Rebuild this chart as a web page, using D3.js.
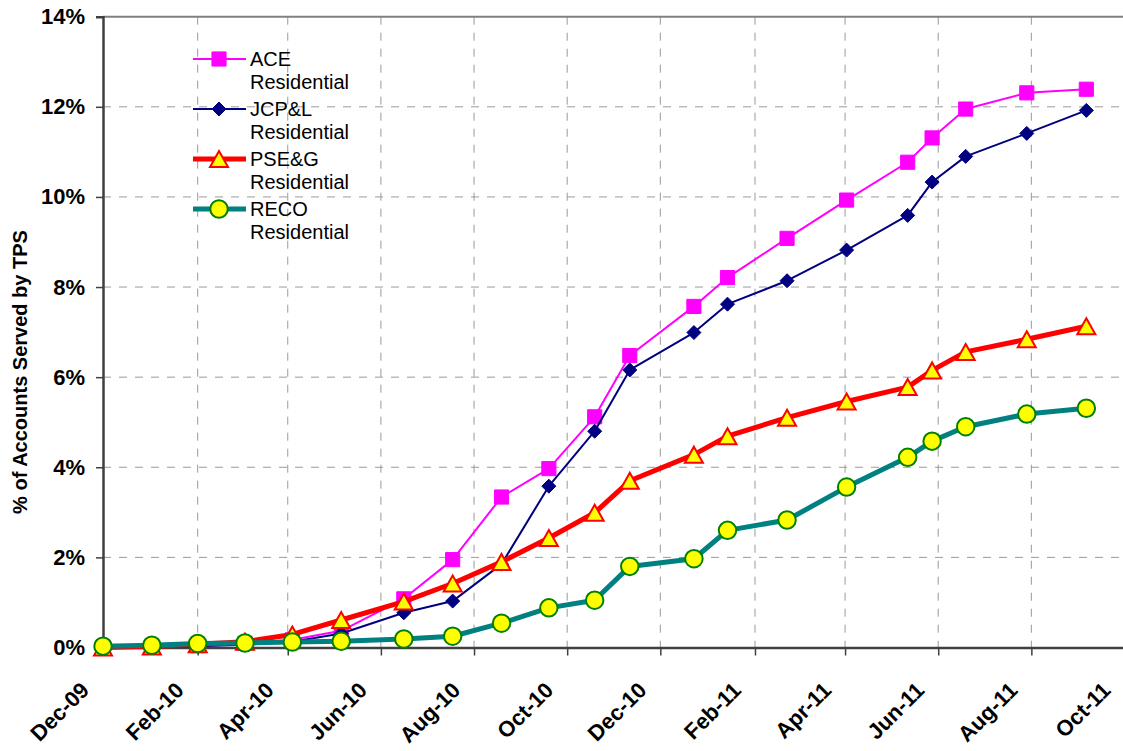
<!DOCTYPE html>
<html>
<head>
<meta charset="utf-8">
<script src="https://cdn.jsdelivr.net/npm/d3@7"></script>
<style>
    body { margin: 0; background: #fff; }
    text { font-family: "Liberation Sans", Arial, sans-serif; }
</style>
</head>
<body>
<div id="chart"></div>
<script>
// survey dates
let dates = [
    "2009-12-01", "2010-01-02", "2010-02-01", "2010-03-04", "2010-04-04", "2010-05-06",
    "2010-06-16", "2010-07-18", "2010-08-19", "2010-09-19", "2010-10-19", "2010-11-11",
    "2010-12-23", "2011-01-14", "2011-02-22", "2011-04-02", "2011-05-12", "2011-05-28",
    "2011-06-19", "2011-07-29", "2011-09-06"
];

// percent of accounts
let ace = [0.00, 0.01, 0.04, 0.09, 0.17, 0.37, 1.08, 1.95, 3.34, 3.97, 5.12, 6.48,
    7.57, 8.21, 9.08, 9.93, 10.77, 11.31, 11.95, 12.31, 12.39];
let jcpl = [0.00, 0.01, 0.03, 0.06, 0.13, 0.31, 0.77, 1.03, 1.85, 3.58, 4.80, 6.16,
    6.99, 7.62, 8.14, 8.82, 9.59, 10.33, 10.90, 11.41, 11.92];
let pseg = [0.00, 0.02, 0.07, 0.13, 0.29, 0.61, 1.02, 1.42, 1.90, 2.43, 2.99, 3.70,
    4.28, 4.69, 5.10, 5.46, 5.78, 6.15, 6.56, 6.84, 7.13];
let reco = [0.03, 0.05, 0.09, 0.10, 0.12, 0.14, 0.19, 0.25, 0.54, 0.88, 1.05, 1.80,
    1.97, 2.60, 2.83, 3.56, 4.22, 4.58, 4.90, 5.18, 5.31];

let seriesNames = ["ACE", "JCP&L", "PSE&G", "RECO"];
let xTicks = [
    "2009-12-01", "2010-02-01", "2010-04-01", "2010-06-01", "2010-08-01", "2010-10-01",
    "2010-12-01", "2011-02-01", "2011-04-01", "2011-06-01", "2011-08-01", "2011-10-01"
];
let yTicks = [0, 2, 4, 6, 8, 10, 12, 14];

let width = 1123, height = 751;
let plotLeft = 103, plotRight = 1124.5, plotTop = 16.7, plotBottom = 647.5;

let parse = d3.timeParse("%Y-%m-%d");

let x = d3.scaleTime()
    .domain([parse(xTicks[0]), parse(xTicks[xTicks.length - 1])])
    .range([plotLeft, plotRight]);
let y = d3.scaleLinear()
    .domain([0, 14])
    .range([plotBottom, plotTop]);

let svg = d3.select("#chart")
    .append("svg")
    .attr("width", width)
    .attr("height", height);

svg.append("rect").attr("width", width).attr("height", height).attr("fill", "#fff");

// gridlines
let grid = svg.append("g")
    .attr("stroke", "#9a9a9a")
    .attr("stroke-width", 1)
    .attr("stroke-dasharray", "8,8");
grid.selectAll("line.h")
    .data(yTicks.slice(1, -1))
    .enter()
    .append("line")
    .attr("x1", plotLeft).attr("x2", plotRight)
    .attr("y1", d => y(d)).attr("y2", d => y(d));
grid.selectAll("line.v")
    .data(xTicks.slice(1, -1))
    .enter()
    .append("line")
    .attr("x1", d => x(parse(d))).attr("x2", d => x(parse(d)))
    .attr("y1", plotTop).attr("y2", plotBottom);

// top border
svg.append("line")
    .attr("x1", plotLeft).attr("x2", plotRight)
    .attr("y1", plotTop).attr("y2", plotTop)
    .attr("stroke", "#808080").attr("stroke-width", 2);

// axes
let yAxis = svg.append("g")
    .attr("transform", `translate(${plotLeft},0)`)
    .call(d3.axisLeft(y).tickValues(yTicks).tickSize(7).tickPadding(11)
        .tickFormat(d => d + "%"));
let xAxis = svg.append("g")
    .attr("transform", `translate(0,${plotBottom})`)
    .call(d3.axisBottom(x).tickValues(xTicks.map(parse)).tickSize(8)
        .tickFormat(d3.timeFormat("%b-%y")));

[yAxis, xAxis].forEach(a => {
    a.select(".domain").attr("stroke", "#404040").attr("stroke-width", 2.5);
    a.selectAll(".tick line").attr("stroke", "#404040").attr("stroke-width", 1.5);
    a.selectAll("text")
        .attr("fill", "#000")
        .style("font-size", "22px")
        .style("font-weight", "bold");
});

xAxis.selectAll(".tick text")
    .attr("text-anchor", "end")
    .attr("y", 0)
    .attr("dy", 0)
    .attr("transform", "translate(-13,44) rotate(-45)");

// y axis title
svg.append("text")
    .attr("transform", "translate(27,372) rotate(-90)")
    .attr("text-anchor", "middle")
    .style("font-size", "20px")
    .style("font-weight", "bold")
    .text("% of Accounts Served by TPS");

// markers
function triangle(w, h) {
    return `M0,${-h / 2}L${w / 2},${h / 2}L${-w / 2},${h / 2}Z`;
}
let styles = [
    { line: "#ff00ff", lw: 2, path: d3.symbol(d3.symbolSquare, 200)(), fill: "#ff00ff", stroke: "#ff00ff", sw: 1 },
    { line: "#000080", lw: 2, path: "M0,-7L7,0L0,7L-7,0Z", fill: "#000080", stroke: "#000080", sw: 1 },
    { line: "#ff0000", lw: 5, path: triangle(18, 16), fill: "#ffff00", stroke: "#ff0000", sw: 2 },
    { line: "#008080", lw: 5, path: d3.symbol(d3.symbolCircle, 240)(), fill: "#ffff00", stroke: "#008000", sw: 2 }
];
let allSeries = [ace, jcpl, pseg, reco];

let line = d3.line()
    .x(d => x(d.date))
    .y(d => y(d.value));

allSeries.forEach((vals, i) => {
    let data = vals.map((v, j) => ({ date: parse(dates[j]), value: v }));
    let s = styles[i];
    let g = svg.append("g");
    g.append("path")
        .datum(data)
        .attr("d", line)
        .attr("fill", "none")
        .attr("stroke", s.line)
        .attr("stroke-width", s.lw)
        .attr("stroke-linejoin", "round");
    g.selectAll("path.m")
        .data(data)
        .enter()
        .append("path")
        .attr("class", "m")
        .attr("d", s.path)
        .attr("transform", d => `translate(${x(d.date)},${y(d.value)})`)
        .attr("fill", s.fill)
        .attr("stroke", s.stroke)
        .attr("stroke-width", s.sw);
});

// legend
let legend = svg.append("g").attr("transform", "translate(193,59)");
seriesNames.forEach((name, i) => {
    let s = styles[i];
    let g = legend.append("g").attr("transform", `translate(0,${i * 50})`);
    g.append("line")
        .attr("x1", 0).attr("x2", 53)
        .attr("stroke", s.line).attr("stroke-width", s.lw);
    g.append("path")
        .attr("d", s.path)
        .attr("transform", "translate(26,0)")
        .attr("fill", s.fill)
        .attr("stroke", s.stroke)
        .attr("stroke-width", s.sw);
    let t = g.append("text")
        .attr("x", 57)
        .attr("y", 7)
        .style("font-size", "20px");
    t.append("tspan").attr("x", 57).text(name);
    t.append("tspan").attr("x", 57).attr("dy", 23).text("Residential");
});
</script>
</body>
</html>
